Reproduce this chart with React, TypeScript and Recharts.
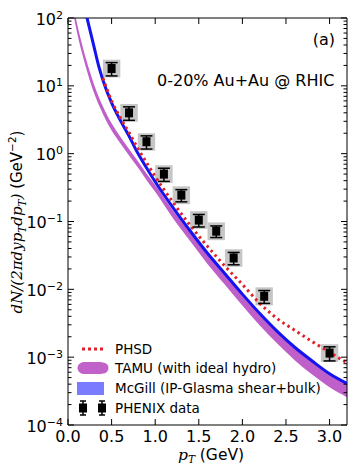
import React from "react";
import {
  ComposedChart,
  Line,
  Area,
  Scatter,
  ErrorBar,
  XAxis,
  YAxis,
  ReferenceArea,
} from "recharts";

// PHSD (red dotted)
const PHSD_PT = [0.4, 0.5, 0.6, 0.7, 0.8, 0.9, 1.0, 1.2, 1.4, 1.6, 1.8, 2.0, 2.2, 2.4, 2.6, 2.8, 3.0, 3.2];
const PHSD_Y = [13, 6.0, 3.4, 2.05, 1.2, 0.74, 0.46, 0.195, 0.088, 0.043, 0.022, 0.0118, 0.0062, 0.0037, 0.0025, 0.0017, 0.00118, 0.00082];

// TAMU band (ideal hydro)
const TAMU_PT = [0.05, 0.1, 0.15, 0.2, 0.25, 0.3, 0.4, 0.5, 0.6, 0.7, 0.8, 0.9, 1.0, 1.2, 1.4, 1.6, 1.8, 2.0, 2.2, 2.4, 2.6, 2.8, 3.0, 3.2];
const TAMU_LO = [138, 64.5, 34.4, 19.8, 12.0, 7.75, 3.86, 2.2, 1.43, 0.94, 0.63, 0.41, 0.275, 0.114, 0.0516, 0.0237, 0.0117, 0.0058, 0.00294, 0.00159, 0.0009, 0.000554, 0.00036, 0.000257];
const TAMU_HI = [186, 87, 46.5, 26.7, 16.3, 10.4, 5.0, 2.8, 1.78, 1.17, 0.78, 0.51, 0.345, 0.148, 0.0697, 0.0331, 0.017, 0.0087, 0.0044, 0.00239, 0.00139, 0.00086, 0.00056, 0.0004];

// McGill (IP-Glasma shear+bulk)
const MCGILL_PT = [0.2, 0.25, 0.3, 0.35, 0.4, 0.5, 0.6, 0.7, 0.8, 0.9, 1.0, 1.2, 1.4, 1.6, 1.8, 2.0, 2.2, 2.4, 2.6, 2.8, 3.0, 3.2];
const MCGILL_Y = [125, 68, 37, 20, 12.2, 5.6, 3.1, 1.82, 1.02, 0.62, 0.385, 0.163, 0.073, 0.034, 0.017, 0.0085, 0.0044, 0.0024, 0.0014, 0.00088, 0.00057, 0.00041];

// PHENIX data
const PHENIX_PT = [0.5, 0.7, 0.9, 1.1, 1.3, 1.5, 1.7, 1.9, 2.25, 3.0];
const PHENIX_Y = [18, 4.0, 1.5, 0.5, 0.245, 0.105, 0.072, 0.029, 0.0079, 0.00115];
const PHENIX_ERR = [4, 0.9, 0.33, 0.11, 0.05, 0.022, 0.014, 0.006, 0.0017, 0.00027];
const PHENIX_SYS_LO = [13.3, 2.96, 1.11, 0.37, 0.18, 0.078, 0.053, 0.0215, 0.0058, 0.00085];
const PHENIX_SYS_HI = [24.3, 5.4, 2.0, 0.675, 0.33, 0.142, 0.097, 0.039, 0.0107, 0.00155];

const X_TICKS = [0, 0.5, 1.0, 1.5, 2.0, 2.5, 3.0];
const Y_MAJOR = [1e-4, 1e-3, 1e-2, 1e-1, 1, 10, 100];
const Y_TICKS = [
  ...Y_MAJOR,
  ...[-4, -3, -2, -1, 0, 1].flatMap((e) => [2, 3, 4, 5, 6, 7, 8, 9].map((k) => k * Math.pow(10, e))),
];

const W = 349;
const H = 465;
const PLOT_W = 279;
const PLOT_H = 407;
const BOX_DX = 0.1;
const FONT = "'DejaVu Sans', sans-serif";
const SERIF = "'DejaVu Serif', serif";

const phsd = PHSD_PT.map((pt, i) => ({ pt, y: PHSD_Y[i] }));
const tamu = TAMU_PT.map((pt, i) => ({ pt, range: [TAMU_LO[i], TAMU_HI[i]] }));
const mcgill = MCGILL_PT.map((pt, i) => ({ pt, y: MCGILL_Y[i] }));
const phenix = PHENIX_PT.map((pt, i) => ({ pt, y: PHENIX_Y[i], err: PHENIX_ERR[i] }));

function YTick(props: any) {
  const { x, y, payload } = props;
  const lg = Math.log10(payload.value);
  const e = Math.round(lg);
  const major = Math.abs(lg - e) < 1e-6;
  const len = major ? 6 : 3.5;
  const exp = e < 0 ? "\u2212" + -e : String(e);
  return (
    <g>
      <line x1={x} x2={x + len} y1={y} y2={y} stroke="#000" strokeWidth={1} />
      <line x1={x + PLOT_W} x2={x + PLOT_W - len} y1={y} y2={y} stroke="#000" strokeWidth={1} />
      {major && (
        <text x={x - 5} y={y + 6.5} textAnchor="end" fontSize={16} fontFamily={FONT} fill="#000">
          10
          <tspan dy={-6} fontSize={11}>
            {exp}
          </tspan>
        </text>
      )}
    </g>
  );
}

function XTick(props: any) {
  const { x, y, payload } = props;
  return (
    <g>
      <line x1={x} x2={x} y1={y} y2={y - 6} stroke="#000" strokeWidth={1} />
      <line x1={x} x2={x} y1={y - PLOT_H} y2={y - PLOT_H + 6} stroke="#000" strokeWidth={1} />
      <text x={x} y={y + 17} textAnchor="middle" fontSize={16} fontFamily={FONT} fill="#000">
        {payload.value.toFixed(1)}
      </text>
    </g>
  );
}

function Overlay() {
  return (
    <svg
      width={W}
      height={H}
      style={{ position: "absolute", left: 0, top: 0, pointerEvents: "none" }}
    >
      <text x={335} y={45} textAnchor="end" fontSize={16} fontFamily={FONT}>
        (a)
      </text>
      <text x={157} y={86} fontSize={16} fontFamily={FONT}>
        0-20% Au+Au @ RHIC
      </text>

      {/* x label */}
      <text x={211} y={460} textAnchor="middle" fontSize={15.5} fontFamily={FONT}>
        <tspan fontFamily={SERIF} fontStyle="italic">p</tspan>
        <tspan fontFamily={SERIF} fontStyle="italic" fontSize={10.5} dy={3}>T</tspan>
        <tspan dy={-3}> (GeV)</tspan>
      </text>

      {/* y label */}
      <text transform="translate(22,222) rotate(-90)" textAnchor="middle" fontSize={15} fontFamily={FONT}>
        <tspan fontFamily={SERIF} fontStyle="italic">dN/(2πdyp</tspan>
        <tspan fontFamily={SERIF} fontStyle="italic" fontSize={10.5} dy={4}>T</tspan>
        <tspan fontFamily={SERIF} fontStyle="italic" dy={-4}>dp</tspan>
        <tspan fontFamily={SERIF} fontStyle="italic" fontSize={10.5} dy={4}>T</tspan>
        <tspan fontFamily={SERIF} fontStyle="italic" dy={-4}>)</tspan>
        <tspan> (GeV</tspan>
        <tspan fontSize={10.5} dy={-6}>{"\u22122"}</tspan>
        <tspan dy={6}>)</tspan>
      </text>

      {/* legend */}
      <line x1={82} x2={103} y1={349} y2={349} stroke="#e0202a" strokeWidth={3} strokeDasharray="3 3" />
      <text x={115} y={354} fontSize={13.5} fontFamily={FONT}>PHSD</text>

      <g fill="#c062c8">
        <rect x={80} y={362} width={24} height={12} rx={4} />
        {[83, 88, 93, 98, 103].map((cx) => (
          <circle key={cx} cx={cx} cy={368} r={5.5} />
        ))}
      </g>
      <text x={115} y={373} fontSize={13.5} fontFamily={FONT}>TAMU (with ideal hydro)</text>

      <rect x={77} y={382} width={27} height={13} fill="#7b7bff" />
      <text x={115} y={393} fontSize={13.5} fontFamily={FONT}>McGill (IP-Glasma shear+bulk)</text>

      {[83, 102].map((cx) => (
        <g key={cx}>
          <line x1={cx} x2={cx} y1={401} y2={415} stroke="#000" strokeWidth={1.5} />
          <line x1={cx - 3} x2={cx + 3} y1={401} y2={401} stroke="#000" strokeWidth={1.5} />
          <line x1={cx - 3} x2={cx + 3} y1={415} y2={415} stroke="#000" strokeWidth={1.5} />
          <rect x={cx - 4} y={403.5} width={8} height={9} fill="#000" />
        </g>
      ))}
      <text x={115} y={413} fontSize={13.5} fontFamily={FONT}>PHENIX data</text>
    </svg>
  );
}

const Square = (props: any) => {
  const { cx, cy } = props;
  return <rect x={cx - 4} y={cy - 4.5} width={8} height={9} fill="#000" />;
};

export default function App() {
  return (
    <div style={{ position: "absolute", left: 0, top: 0, width: W, height: H, background: "#fff" }}>
      <ComposedChart width={W} height={H} margin={{ top: 18, right: 2, bottom: 0, left: 0 }}>
        <XAxis
          dataKey="pt"
          type="number"
          domain={[0, 3.2]}
          ticks={X_TICKS}
          interval={0}
          allowDataOverflow
          axisLine={false}
          tickLine={false}
          tickSize={0}
          tickMargin={0}
          height={40}
          tick={<XTick />}
        />
        <YAxis
          type="number"
          scale="log"
          domain={[1e-4, 100]}
          ticks={Y_TICKS}
          interval={0}
          allowDataOverflow
          axisLine={false}
          tickLine={false}
          tickSize={0}
          tickMargin={0}
          width={68}
          tick={<YTick />}
        />
        {phenix.map((p, i) => (
          <ReferenceArea
            key={"sys" + i}
            x1={p.pt - BOX_DX}
            x2={p.pt + BOX_DX}
            y1={PHENIX_SYS_LO[i]}
            y2={PHENIX_SYS_HI[i]}
            fill="#c6c6c6"
            fillOpacity={1}
            stroke="none"
            ifOverflow="hidden"
          />
        ))}
        <Area
          data={tamu}
          dataKey="range"
          type="monotone"
          stroke="none"
          fill="#bf5fc9"
          fillOpacity={1}
          isAnimationActive={false}
          dot={false}
          activeDot={false}
        />
        <Line
          data={mcgill}
          dataKey="y"
          type="monotone"
          stroke="#1414f0"
          strokeWidth={3}
          dot={false}
          activeDot={false}
          isAnimationActive={false}
        />
        <Line
          data={phsd}
          dataKey="y"
          type="monotone"
          stroke="#e0202a"
          strokeWidth={3}
          strokeDasharray="2.5 3.5"
          dot={false}
          activeDot={false}
          isAnimationActive={false}
        />
        <Scatter data={phenix} dataKey="y" shape={<Square />} isAnimationActive={false}>
          <ErrorBar dataKey="err" direction="y" width={6} stroke="#000" strokeWidth={1.5} />
        </Scatter>
        <ReferenceArea x1={0} x2={3.2} y1={1e-4} y2={100} fill="none" stroke="#000" strokeWidth={1} />
      </ComposedChart>
      <Overlay />
    </div>
  );
}
